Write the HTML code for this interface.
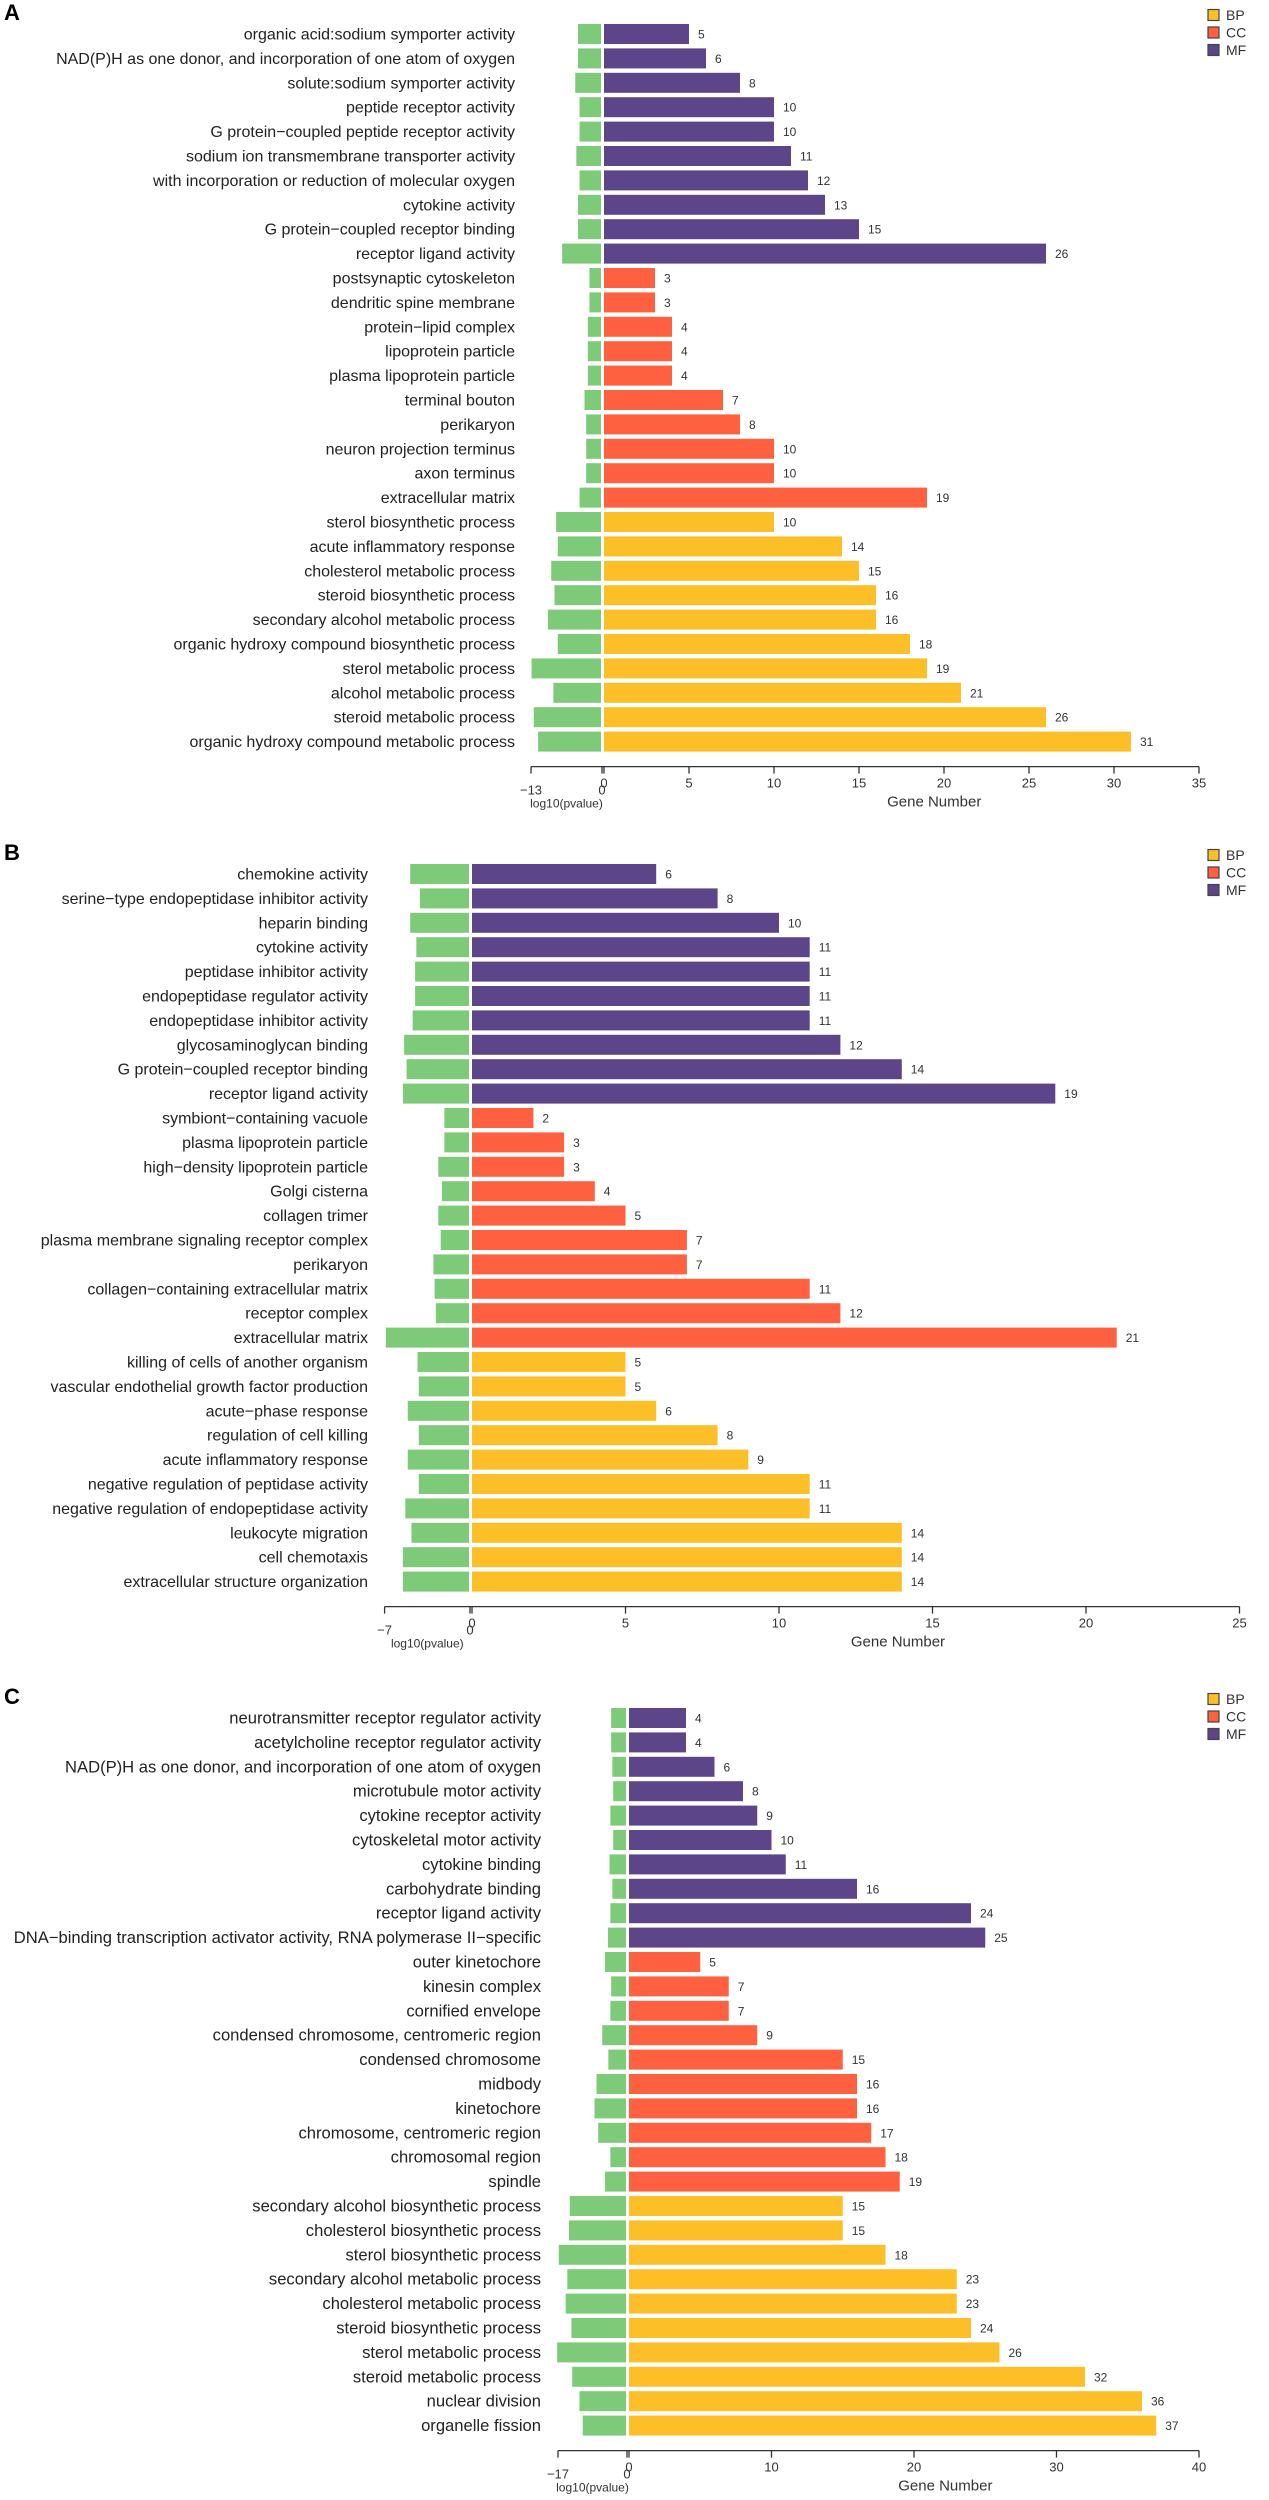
<!DOCTYPE html>
<html><head><meta charset="utf-8"><style>
html,body{margin:0;padding:0;background:#fff;}
svg{display:block;font-family:"Liberation Sans",Arial,sans-serif;}
</style></head><body>
<svg id="chart" width="1269" height="2500" viewBox="0 0 1269 2500" xmlns="http://www.w3.org/2000/svg"></svg>
<script>
const catsA = ["MF","MF","MF","MF","MF","MF","MF","MF","MF","MF","CC","CC","CC","CC","CC","CC","CC","CC","CC","CC","BP","BP","BP","BP","BP","BP","BP","BP","BP","BP"];
const termsA = ["organic acid:sodium symporter activity","NAD(P)H as one donor, and incorporation of one atom of oxygen","solute:sodium symporter activity","peptide receptor activity","G protein\u2212coupled peptide receptor activity","sodium ion transmembrane transporter activity","with incorporation or reduction of molecular oxygen","cytokine activity","G protein\u2212coupled receptor binding","receptor ligand activity","postsynaptic cytoskeleton","dendritic spine membrane","protein\u2212lipid complex","lipoprotein particle","plasma lipoprotein particle","terminal bouton","perikaryon","neuron projection terminus","axon terminus","extracellular matrix","sterol biosynthetic process","acute inflammatory response","cholesterol metabolic process","steroid biosynthetic process","secondary alcohol metabolic process","organic hydroxy compound biosynthetic process","sterol metabolic process","alcohol metabolic process","steroid metabolic process","organic hydroxy compound metabolic process"];
const genesA = [5,6,8,10,10,11,12,13,15,26,3,3,4,4,4,7,8,10,10,19,10,14,15,16,16,18,19,21,26,31];
const logpA = [4.4,4.4,4.9,4.1,4.1,4.7,4.1,4.4,4.4,7.3,2.3,2.3,2.6,2.6,2.6,3.2,2.9,2.9,2.9,4.1,8.4,8.1,9.3,8.7,9.9,8.1,12.9,8.9,12.5,11.7];
const ticksA = [0,5,10,15,20,25,30,35];

const catsB = catsA.slice();
const termsB = ["chemokine activity","serine\u2212type endopeptidase inhibitor activity","heparin binding","cytokine activity","peptidase inhibitor activity","endopeptidase regulator activity","endopeptidase inhibitor activity","glycosaminoglycan binding","G protein\u2212coupled receptor binding","receptor ligand activity","symbiont\u2212containing vacuole","plasma lipoprotein particle","high\u2212density lipoprotein particle","Golgi cisterna","collagen trimer","plasma membrane signaling receptor complex","perikaryon","collagen\u2212containing extracellular matrix","receptor complex","extracellular matrix","killing of cells of another organism","vascular endothelial growth factor production","acute\u2212phase response","regulation of cell killing","acute inflammatory response","negative regulation of peptidase activity","negative regulation of endopeptidase activity","leukocyte migration","cell chemotaxis","extracellular structure organization"];
const genesB = [6,8,10,11,11,11,11,12,14,19,2,3,3,4,5,7,7,11,12,21,5,5,6,8,9,11,11,14,14,14];
const logpB = [4.9,4.1,4.9,4.4,4.5,4.5,4.7,5.4,5.2,5.5,2.1,2.1,2.6,2.3,2.6,2.4,3.0,2.9,2.8,6.9,4.3,4.2,5.1,4.2,5.1,4.2,5.3,4.8,5.5,5.5];
const ticksB = [0,5,10,15,20,25];

const catsC = catsA.slice();
const termsC = ["neurotransmitter receptor regulator activity","acetylcholine receptor regulator activity","NAD(P)H as one donor, and incorporation of one atom of oxygen","microtubule motor activity","cytokine receptor activity","cytoskeletal motor activity","cytokine binding","carbohydrate binding","receptor ligand activity","DNA\u2212binding transcription activator activity, RNA polymerase II\u2212specific","outer kinetochore","kinesin complex","cornified envelope","condensed chromosome, centromeric region","condensed chromosome","midbody","kinetochore","chromosome, centromeric region","chromosomal region","spindle","secondary alcohol biosynthetic process","cholesterol biosynthetic process","sterol biosynthetic process","secondary alcohol metabolic process","cholesterol metabolic process","steroid biosynthetic process","sterol metabolic process","steroid metabolic process","nuclear division","organelle fission"];
const genesC = [4,4,6,8,9,10,11,16,24,25,5,7,7,9,15,16,16,17,18,19,15,15,18,23,23,24,26,32,36,37];
const logpC = [3.9,3.9,3.6,3.4,4.1,3.4,4.3,3.6,4.1,4.7,5.4,3.9,4.1,6.1,4.6,7.5,8.0,7.1,4.1,5.4,14.1,14.3,16.8,14.7,15.1,13.7,17.2,13.5,11.7,10.9];
const ticksC = [0,10,20,30,40];

const COLORS = {BP:"#FDBF27", CC:"#FE6040", MF:"#5C4589"};
const GREEN = "#7DCB78";
const svg = document.getElementById('chart');
const NS = "http://www.w3.org/2000/svg";
function mk(tag, attrs, parent){ const e=document.createElementNS(NS,tag); for(const k in attrs) e.setAttribute(k,attrs[k]); (parent||svg).appendChild(e); return e; }

function panel(letter, cats, terms, genes, logp, ticks, cfg){
  const g = mk('g',{});
  
  
  const gx = v => cfg.zero + 2 + v*cfg.gpx;
  const nx = v => cfg.zero - v*cfg.npx;
  const rowY = i => cfg.y0 + i*24.4;
  const t = mk('text',{x:4,y:cfg.y0-14,'font-size':22,'font-weight':'bold',fill:'#000'},g);
  t.textContent = letter;
  
  
  for(let i=0;i<terms.length;i++){
    const cy = rowY(i);
    const lb = mk('text',{x:cfg.labelX,y:cy+5.5,'font-size':cfg.fs,'text-anchor':'end',fill:'#222'},g);
    lb.textContent = terms[i];
    
    
    const gb = mk('rect',{x:nx(logp[i]),y:cy-10,width:nx(0)-1-nx(logp[i]),height:20,fill:GREEN},g);
    
    
    const b = mk('rect',{x:gx(0),y:cy-10,width:gx(genes[i])-gx(0),height:20,fill:COLORS[cats[i]]},g);
    
    
    const v = mk('text',{x:gx(genes[i])+9,y:cy+4.5,'font-size':12,fill:'#333'},g);
    v.textContent = genes[i];
    
    
  }
  const ay = rowY(terms.length-1)+25;
  const ax = mk('path',{d:`M${nx(cfg.nmin)} ${ay}H${gx(ticks[ticks.length-1])}`,stroke:'#333','stroke-width':1.3,fill:'none'},g);
  
  
  const tk = [nx(cfg.nmin), nx(0)].concat(ticks.map(gx));
  for(const x of tk){ const l=mk('line',{x1:x,x2:x,y1:ay,y2:ay+7,stroke:'#333','stroke-width':1.3},g);   }
  for(const tv of ticks){
    const tl = mk('text',{x:gx(tv),y:ay+21,'font-size':13,'text-anchor':'middle',fill:'#333'},g);
    tl.textContent = tv;
    
    
  }
  const n1 = mk('text',{x:nx(cfg.nmin),y:ay+28,'font-size':13,'text-anchor':'middle',fill:'#333'},g);
  n1.textContent = '\u2212'+cfg.nmin;
  
  
  const n0 = mk('text',{x:nx(0),y:ay+28,'font-size':13,'text-anchor':'middle',fill:'#333'},g);
  n0.textContent = '0';
  
  
  const lp = mk('text',{x:(nx(cfg.nmin)+nx(0))/2,y:ay+41,'font-size':12,'text-anchor':'middle',fill:'#333'},g);
  lp.textContent = 'log10(pvalue)';
  
  
  const gn = mk('text',{x:gx(0)+0.555*(gx(ticks[ticks.length-1])-gx(0)),y:ay+40,'font-size':15,'text-anchor':'middle',fill:'#333'},g);
  gn.textContent = 'Gene Number';
  
  
  ['BP','CC','MF'].forEach((c,k)=>{
    const yy = cfg.y0 - 19 + k*17.5;
    const sq = mk('rect',{x:1208,y:yy-5.5,width:11,height:11,fill:COLORS[c],stroke:'#444','stroke-width':1.2},g);
    
    
    const lt = mk('text',{x:1226,y:yy+5,'font-size':14,fill:'#333'},g);
    lt.textContent = c;
    
    
  });
}
panel('A', catsA, termsA, genesA, logpA, ticksA, {zero:602, gpx:17.0, npx:5.46, nmin:13, labelX:515, y0:34, fs:16});
panel('B', catsB, termsB, genesB, logpB, ticksB, {zero:470, gpx:30.7, npx:12.2, nmin:7, labelX:368, y0:874, fs:16});
panel('C', catsC, termsC, genesC, logpC, ticksC, {zero:627, gpx:14.25, npx:4.06, nmin:17, labelX:541, y0:1718, fs:16.6});
</script>
</body></html>
